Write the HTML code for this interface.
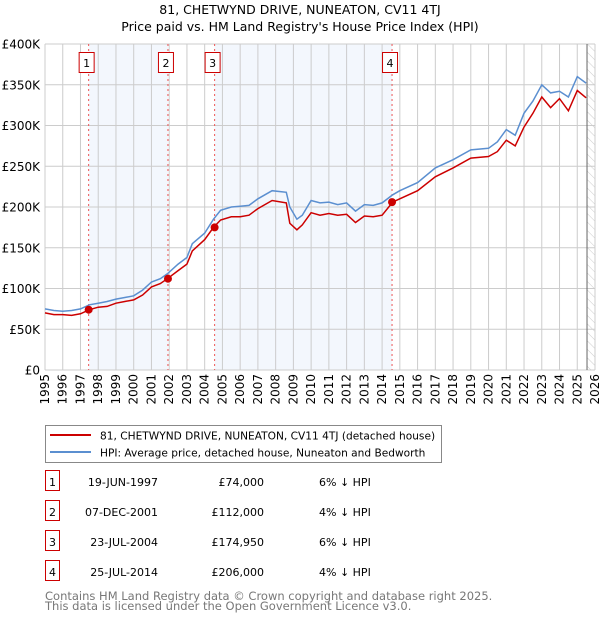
<!DOCTYPE html>
<html><head><meta charset="utf-8"><style>
body{margin:0;background:#fff;font-family:"DejaVu Sans","Liberation Sans",sans-serif;}
svg text{font-family:"DejaVu Sans","Liberation Sans",sans-serif;}
</style></head><body>
<svg id="c" width="600" height="620" xmlns="http://www.w3.org/2000/svg">
<defs><pattern id="hatch" width="6" height="6" patternUnits="userSpaceOnUse" patternTransform="rotate(-45)"><line x1="0" y1="0" x2="0" y2="6" stroke="#ccc" stroke-width="1"/></pattern></defs>
<text x="300" y="14" text-anchor="middle" font-size="12.5">81, CHETWYND DRIVE, NUNEATON, CV11 4TJ</text>
<text x="300" y="31" text-anchor="middle" font-size="12.5">Price paid vs. HM Land Registry's House Price Index (HPI)</text>
<g id="plot"></g>
<g>
<rect x="45.5" y="425.5" width="396" height="37" fill="#fff" stroke="#888"/>
<line x1="50" y1="435" x2="91" y2="435" stroke="#cc0000" stroke-width="2"/>
<text x="100" y="439.5" font-size="10.6">81, CHETWYND DRIVE, NUNEATON, CV11 4TJ (detached house)</text>
<line x1="50" y1="452" x2="91" y2="452" stroke="#5b8fd0" stroke-width="2"/>
<text x="100" y="456.5" font-size="10.6">HPI: Average price, detached house, Nuneaton and Bedworth</text>
</g>
<g id="table"></g>
<text x="45" y="600" font-size="11.5" fill="#777">Contains HM Land Registry data © Crown copyright and database right 2025.</text>
<text x="45" y="610" font-size="11.5" fill="#777">This data is licensed under the Open Government Licence v3.0.</text>
</svg>
<script>
const hpiYears=[1995,1995.5,1996,1996.5,1997,1997.5,1998,1998.5,1999,1999.5,2000,2000.5,2001,2001.5,2001.9,2002.5,2003,2003.3,2004,2004.5,2004.9,2005.5,2006,2006.5,2007,2007.8,2008.6,2008.8,2009.2,2009.5,2010,2010.5,2011,2011.5,2012,2012.5,2013,2013.5,2014,2014.6,2015,2016,2017,2018,2019,2020,2020.5,2021,2021.5,2022,2022.5,2023,2023.5,2024,2024.5,2025,2025.5];
const hpiValues=[75,73,72,73,75,80,82,84,87,89,91,98,108,112,118,130,138,155,168,185,196,200,201,202,210,220,218,200,185,190,208,205,206,203,205,195,203,202,205,215,220,230,248,258,270,272,280,295,288,315,330,350,340,342,335,360,352];
const priceValues=[70,68,68,67,69,74,77,78,82,84,86,92,102,106,112,122,130,146,160,175,184,188,188,190,198,208,205,180,172,178,193,190,192,190,191,181,189,188,190,206,210,220,237,248,260,262,268,282,275,298,315,335,322,333,318,343,334];
const saleYears=[1997.46,2001.93,2004.56,2014.56];
const salePrices=[74000,112000,174950,206000];
const saleLabels=["1","2","3","4"];
const saleDates=["19-JUN-1997","07-DEC-2001","23-JUL-2004","25-JUL-2014"];
const salePriceText=["£74,000","£112,000","£174,950","£206,000"];
const saleDiff=["6% ↓ HPI","4% ↓ HPI","6% ↓ HPI","4% ↓ HPI"];
const yTicks=[0,50000,100000,150000,200000,250000,300000,350000,400000];
const yTickLabels=["£0","£50K","£100K","£150K","£200K","£250K","£300K","£350K","£400K"];

const X0=45,X1=595,Y0=370,Y1=44;
const xs=y=>X0+(y-1995)/31*(X1-X0);
const ys=v=>Y0-v/400000*(Y0-Y1);
const NS="http://www.w3.org/2000/svg";
const plot=document.getElementById('plot');
function mk(tag,attrs,parent){const e=document.createElementNS(NS,tag);for(const k in attrs)e.setAttribute(k,attrs[k]);(parent||plot).appendChild(e);return e;}
let e;
e=mk('rect',{x:xs(saleYears[0]),y:Y1,width:xs(saleYears[1])-xs(saleYears[0]),height:Y0-Y1,fill:'#eef3fc',opacity:0.7});


e=mk('rect',{x:xs(saleYears[2]),y:Y1,width:xs(saleYears[3])-xs(saleYears[2]),height:Y0-Y1,fill:'#eef3fc',opacity:0.7});


e=mk('rect',{x:xs(2025.55),y:Y1,width:X1-xs(2025.55),height:Y0-Y1,fill:'url(#hatch)'});


for(let yr=1995;yr<=2026;yr++){
 e=mk('line',{x1:xs(yr),x2:xs(yr),y1:Y1,y2:Y0,stroke:'#ccc','stroke-width':1});
 
 
 const t=mk('text',{x:0,y:0,'font-size':12,'text-anchor':'end',transform:`translate(${xs(yr)+4},374) rotate(-90)`});
 t.textContent=yr;
 
 
}
yTicks.forEach((v,i)=>{
 e=mk('line',{x1:X0,x2:X1,y1:ys(v),y2:ys(v),stroke:'#ccc','stroke-width':1});
 
 
 const t=mk('text',{x:40,y:ys(v)+4.5,'font-size':12,'text-anchor':'end'});
 t.textContent=yTickLabels[i];
 
 
});
e=mk('line',{x1:xs(2025.55),x2:xs(2025.55),y1:Y1,y2:Y0,stroke:'#666','stroke-width':1});


saleYears.forEach((yr,i)=>{
 e=mk('line',{x1:xs(yr),x2:xs(yr),y1:Y1,y2:Y0,stroke:'#e55','stroke-width':1,'stroke-dasharray':'2,3'});
 
 
});
const pts=a=>hpiYears.map((y,i)=>xs(y).toFixed(1)+','+ys(a[i]*1000).toFixed(1)).join(' ');
e=mk('polyline',{points:pts(hpiValues),fill:'none',stroke:'#5b8fd0','stroke-width':1.5});


e=mk('polyline',{points:pts(priceValues),fill:'none',stroke:'#cc0000','stroke-width':1.5});


saleYears.forEach((yr,i)=>{
 e=mk('circle',{cx:xs(yr),cy:ys(salePrices[i]),r:4,fill:'#cc0000'});
 
 
 const bx=xs(yr)-9;
 e=mk('rect',{x:bx-0.5,y:52.5,width:15,height:20,fill:'#fff',stroke:'#cc0000'});
 
 
 const t=mk('text',{x:bx+7,y:67,'font-size':11,'text-anchor':'middle'});
 t.textContent=saleLabels[i];
 
 
});
const tb=document.getElementById('table');
saleLabels.forEach((l,i)=>{
 const y=484+i*30;
 e=mk('rect',{x:45.5,y:y-13.5,width:14,height:20,fill:'#fff',stroke:'#cc0000'},tb);
 
 
 let t=mk('text',{x:52.5,y:y+2,'font-size':11,'text-anchor':'middle'},tb);t.textContent=l;
 
 
 t=mk('text',{x:158,y:y+2,'font-size':11,'text-anchor':'end'},tb);t.textContent=saleDates[i];
 
 
 t=mk('text',{x:264,y:y+2,'font-size':11,'text-anchor':'end'},tb);t.textContent=salePriceText[i];
 
 
 t=mk('text',{x:319,y:y+2,'font-size':11},tb);t.textContent=saleDiff[i];
 
 
});
</script>
</body></html>
